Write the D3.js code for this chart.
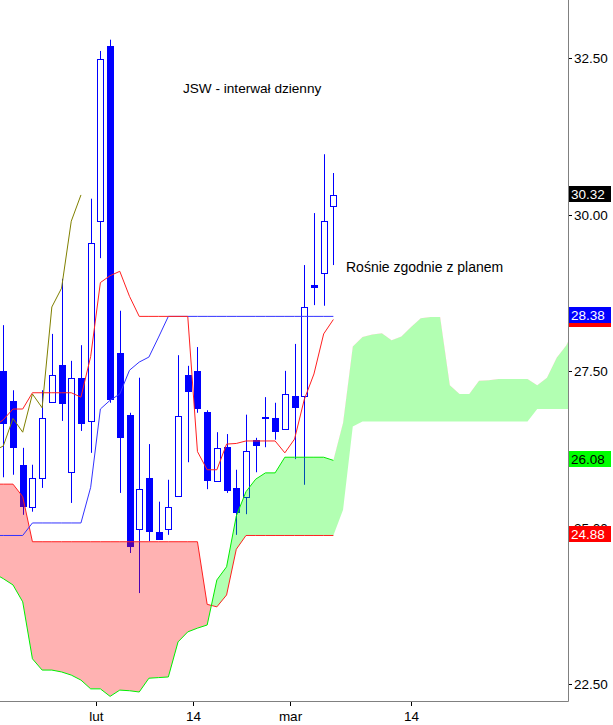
<!DOCTYPE html>
<html><head><meta charset="utf-8">
<script src="https://cdn.jsdelivr.net/npm/d3@7"></script>
<style>body{margin:0;background:#fff}svg{display:block}</style>
</head><body>
<script>
// ---- candle data (one per trading day, index 0..34) ----
const openP  = [27.51,27.03,26.01,25.34,25.80,27.01,27.60,25.89,27.40,26.71,29.90,32.70,27.80,26.81,24.98,25.80,24.94,24.98,25.51,27.44,27.51,26.85,25.75,26.29,25.64,25.50,26.41,26.77,26.76,26.58,27.11,27.11,28.88,29.07,30.14];
const highP  = [28.24,27.20,26.28,26.01,27.20,28.10,28.98,27.67,27.92,30.26,32.62,32.80,28.47,26.84,27.40,26.34,25.42,25.77,27.76,27.59,27.89,26.88,26.53,26.50,25.93,26.81,26.44,27.09,27.00,27.51,27.94,29.20,30.03,30.97,30.67];
const lowP   = [25.81,25.85,25.21,25.26,25.64,27.01,26.71,25.40,26.55,26.20,29.31,27.00,25.56,24.60,23.96,24.79,24.81,24.89,25.51,26.05,26.84,25.62,25.75,25.56,24.89,25.22,25.89,26.29,26.41,26.58,26.10,25.69,28.56,28.55,29.20];
const closeP = [26.66,26.28,25.34,25.80,26.76,27.44,26.98,27.40,26.66,29.55,32.49,27.04,26.44,24.70,25.62,24.94,24.81,25.34,26.79,27.17,26.90,25.75,26.28,25.59,25.24,26.23,26.31,26.75,26.53,27.14,26.92,28.53,28.83,29.90,30.32];

// ---- ichimoku lines, index -1..34 ----
const tenkan = [26.61,26.73,26.90,26.90,27.16,27.16,27.16,27.16,27.16,27.09,27.74,28.92,29.03,29.10,28.70,28.38,28.38,28.38,28.38,28.38,28.38,26.22,25.93,25.93,26.34,26.35,26.39,26.39,26.39,26.39,26.20,26.42,27.05,27.46,28.10,28.33];
const kijun  = [24.88,24.88,24.88,24.88,25.08,25.08,25.08,25.08,25.08,25.08,25.65,26.90,27.04,27.14,27.52,27.65,27.73,28.05,28.38,28.38,28.38,28.38,28.38,28.38,28.38,28.38,28.38,28.38,28.38,28.38,28.38,28.38,28.38,28.38,28.38,28.38];
// ---- cloud, index -1..60 ----
const senkouA = [24.28,24.19,24.09,23.82,22.91,22.73,22.73,22.70,22.65,22.57,22.43,22.43,22.31,22.41,22.40,22.38,22.60,22.61,22.62,23.18,23.34,23.40,23.45,24.17,24.38,25.19,25.58,25.78,25.88,25.88,26.13,26.13,26.13,26.13,26.13,26.08,
                 26.68,27.90,28.05,28.09,28.11,28.00,28.06,28.21,28.35,28.37,28.37,27.28,27.14,27.14,27.35,27.36,27.38,27.38,27.38,27.38,27.28,27.40,27.72,27.92,28.24,28.36];
const senkouB = [25.70,25.70,25.70,25.50,24.78,24.78,24.78,24.78,24.78,24.78,24.78,24.78,24.78,24.78,24.78,24.78,24.78,24.78,24.78,24.78,24.78,24.78,23.78,23.74,23.93,24.66,24.88,24.88,24.88,24.88,24.88,24.88,24.88,24.88,24.88,24.88,
                 25.29,26.62,26.70,26.70,26.70,26.70,26.70,26.70,26.70,26.70,26.70,26.70,26.70,26.70,26.70,26.70,26.70,26.70,26.70,26.70,26.90,26.90,26.90,26.90,26.90,26.90];

const yTicks = [22.5,25,27.5,30,32.5];
const xTickPos = [9.5,19.5,29.5,42];
const xTickLabels = ["lut","14","mar","14"];
const titleText = "JSW - interwał dzienny";
const noteText = "Rośnie zgodnie z planem";

const W = 613, H = 725, PR = 568, PB = 701;
const FONT = "Arial, 'Liberation Sans', sans-serif";
const svg = d3.select("body").append("svg").attr("width", W).attr("height", H);
const x = d3.scaleLinear().domain([-0.34, 58.2]).range([0, 568.3]);
const y = d3.scaleLinear().domain([22.236, 33.434]).range([PB, 0]);

const defs = svg.append("defs");
defs.append("clipPath").attr("id","plot").append("rect").attr("x",0).attr("y",0).attr("width",PR).attr("height",PB);

const candles = openP.map((o,i)=>({i, o, h:highP[i], l:lowP[i], c:closeP[i]}));
const cloud = senkouA.map((a,k)=>({i:k-1, a, b:senkouB[k]}));
const cur = cloud.filter(d=>d.i<=34);
const tk = tenkan.map((v,k)=>({i:k-1, v}));
const kj = kijun.map((v,k)=>({i:k-1, v}));
const chikou = closeP.slice(25).map((v,k)=>({i:k-1, v}));

// clip regions relative to Senkou A
defs.append("clipPath").attr("id","aboveA").append("path")
  .attr("d", d3.area().x(d=>x(d.i)).y0(-10).y1(d=>y(d.a))(cloud));
defs.append("clipPath").attr("id","belowA").append("path")
  .attr("d", d3.area().x(d=>x(d.i)).y0(PB+10).y1(d=>y(d.a))(cloud));

const g = svg.append("g").attr("clip-path","url(#plot)");

// candles
const cg = g.append("g");
candles.forEach(d=>{
  const cx = Math.round(x(d.i));
  cg.append("line").attr("x1",cx+0.5).attr("x2",cx+0.5).attr("y1",y(d.h)).attr("y2",y(d.l))
    .attr("stroke","#0000ff").attr("stroke-width",1);
  const top = y(Math.max(d.o,d.c)), bot = y(Math.min(d.o,d.c));
  if (d.c > d.o) {
    cg.append("rect").attr("x",cx-2.5).attr("y",Math.round(top)+0.5).attr("width",6)
      .attr("height",Math.max(1,Math.round(bot)-Math.round(top)))
      .attr("fill","#fff").attr("stroke","#0000ff").attr("stroke-width",1);
  } else {
    cg.append("rect").attr("x",cx-3).attr("y",Math.round(top)).attr("width",7)
      .attr("height",Math.max(2,Math.round(bot)-Math.round(top)))
      .attr("fill","#0000ff");
  }
});

// cloud fill
const band = d3.area().x(d=>x(d.i)).y0(d=>y(d.b)).y1(d=>y(d.a));
g.append("g").attr("clip-path","url(#aboveA)").append("path").attr("d",band(cloud))
  .attr("fill","#ff0000").attr("fill-opacity",0.3);
g.append("g").attr("clip-path","url(#belowA)").append("path").attr("d",band(cloud))
  .attr("fill","#00ff00").attr("fill-opacity",0.3);

// lines
const ln = d3.line().x(d=>x(d.i));
g.append("path").attr("d", ln.y(d=>y(d.b))(cur)).attr("fill","none").attr("stroke","#ff2020").attr("stroke-width",1);
g.append("path").attr("d", ln.y(d=>y(d.a))(cur)).attr("fill","none").attr("stroke","#00ee00").attr("stroke-width",1);
g.append("path").attr("d", ln.y(d=>y(d.v))(kj)).attr("fill","none").attr("stroke","#3333ff").attr("stroke-width",1);
g.append("path").attr("d", ln.y(d=>y(d.v))(tk)).attr("fill","none").attr("stroke","#ff2020").attr("stroke-width",1);
g.append("path").attr("d", ln.y(d=>y(d.v))(chikou)).attr("fill","none").attr("stroke","#808000").attr("stroke-width",1);

// texts
svg.append("text").attr("x",183).attr("y",93).attr("font-family",FONT).attr("font-size",13.6).attr("fill","#000").text(titleText);
svg.append("text").attr("x",346).attr("y",272).attr("font-family",FONT).attr("font-size",14).attr("fill","#000").text(noteText);

// axes
svg.append("line").attr("x1",PR+0.5).attr("x2",PR+0.5).attr("y1",0).attr("y2",PB+0.5).attr("stroke","#808080");
svg.append("line").attr("x1",0).attr("x2",PR+0.5).attr("y1",PB+0.5).attr("y2",PB+0.5).attr("stroke","#808080");
yTicks.forEach(v=>{
  const yy = Math.round(y(v))+0.5;
  svg.append("line").attr("x1",PR+1).attr("x2",PR+4).attr("y1",yy).attr("y2",yy).attr("stroke","#000");
  svg.append("text").attr("x",PR+6).attr("y",yy).attr("dy","0.36em").attr("font-family",FONT).attr("font-size",13.5)
    .attr("fill","#000").text(d3.format(".2f")(v));
});
xTickPos.forEach((p,k)=>{
  const xx = Math.round(x(p))+0.5;
  svg.append("line").attr("x1",xx).attr("x2",xx).attr("y1",PB+1).attr("y2",PB+5).attr("stroke","#000");
  svg.append("text").attr("x",xx).attr("y",721).attr("text-anchor","middle").attr("font-family",FONT).attr("font-size",13.5)
    .attr("fill","#000").text(xTickLabels[k]);
});

// last value labels (Tenkan marker sits behind the Kijun label, only its edge shows)
const last = 34;
svg.append("rect").attr("x",PR+1).attr("y",Math.round(y(tenkan[last+1]))-9).attr("width",42).attr("height",16).attr("fill","#ff0000");
const labels = [
  {v: kijun[last+1], bg:"#0000ff", fg:"#fff"},
  {v: closeP[last], bg:"#000000", fg:"#fff"},
  {v: senkouA[last+1], bg:"#00ff00", fg:"#000"},
  {v: senkouB[last+1], bg:"#ff0000", fg:"#fff"}
];
labels.forEach(L=>{
  const yy = y(L.v);
  svg.append("rect").attr("x",PR+1).attr("y",Math.round(yy)-9).attr("width",42).attr("height",16).attr("fill",L.bg);
  svg.append("text").attr("x",PR+3).attr("y",Math.round(yy)-1).attr("dy","0.36em").attr("font-family",FONT).attr("font-size",13.5)
    .attr("fill",L.fg).text(d3.format(".2f")(L.v));
});
</script>
</body></html>
